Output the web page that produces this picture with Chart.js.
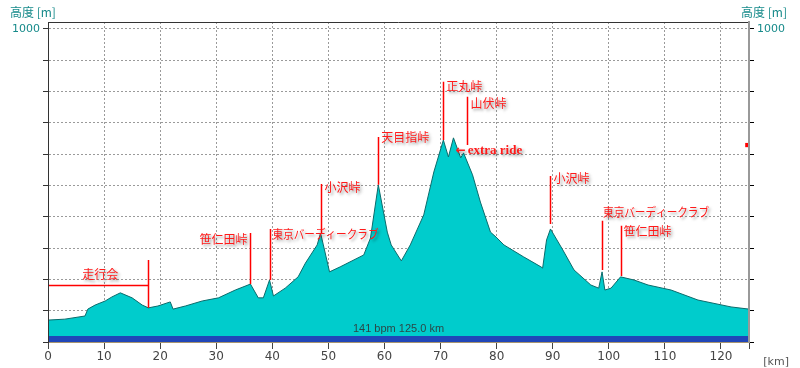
<!DOCTYPE html>
<html lang="ja">
<head>
<meta charset="UTF-8">
<title>高度プロファイル</title>
<script src="https://cdn.jsdelivr.net/npm/chart.js@4.4.0/dist/chart.umd.min.js"></script>
<style>
  html, body { margin: 0; padding: 0; background: #fff; }
</style>
</head>
<body>
<canvas id="grafico" width="800" height="368"></canvas>
<script>
// 距離 [km] と 高度 [m]
const distKm = [0, 3.0, 6.6, 7.1, 8.4, 10.2, 11.4, 12.9, 15.0, 16.8, 17.9, 19.6, 21.8, 22.3, 24.5, 27.5,
  30.4, 33.4, 36.1, 37.5, 38.4, 39.5, 40.2, 42.3, 44.6, 45.9, 48.0, 48.6, 49.1, 50.2, 52.1, 56.3,
  57.5, 58.9, 60.5, 61.2, 63.0, 64.6, 67.0, 68.8, 70.5, 71.4, 72.3, 73.6, 74.1, 75.7, 77.1, 78.9,
  79.9, 81.3, 84.8, 87.9, 88.2, 88.9, 89.6, 91.8, 93.8, 96.8, 98.2, 98.8, 99.3, 100.4, 102.1,
  104.5, 107.0, 111.1, 115.9, 121.8, 125.0];
const altM = [70, 73, 83, 105, 118, 131, 144, 157, 141, 118, 109, 115, 128, 105, 115, 131,
  141, 166, 185, 141, 141, 198, 147, 172, 208, 252, 310, 348, 310, 224, 240, 278,
  332, 502, 351, 310, 259, 310, 406, 543, 645, 591, 652, 588, 604, 534, 447, 351,
  335, 310, 272, 240, 236, 326, 361, 294, 230, 182, 172, 224, 166, 172, 208,
  198, 182, 166, 134, 112, 105];

const xTicks = [0, 10, 20, 30, 40, 50, 60, 70, 80, 90, 100, 110, 120, 125];
const yTicks = [0, 100, 200, 300, 400, 500, 600, 700, 800, 900, 1000];

// 峠
const passNames = ['笹仁田峠', '東京バーディークラブ', '小沢峠', '天目指峠', '正丸峠', '山伏峠', '小沢峠', '東京バーディークラブ', '笹仁田峠'];
const passKm = [36.1, 39.5, 48.6, 58.9, 70.5, 74.8, 89.6, 98.8, 102.1];
const passTop = [348, 361, 505, 655, 831, 783, 530, 387, 371];
const passBase = [185, 198, 348, 502, 645, 629, 377, 230, 211];

// 走行会
const meetName = '走行会';
const meetKm = 17.9;
const meetTop = 262;
const meetBase = 109;
const meetLevel = 182;

const extraName = 'extra ride';
const extraKm = 72.7;
const extraAlt = 610;

const avgBpm = 141;
const totalKm = 125.0;
const hrBand = 19;
const markerAlt = 629;

// ラベルの置き方 (dx, dy, align)
const passLabelStyle = [
  [-3, 6, 'right'], [3, 5, 'left'], [4, 4, 'left'], [3, 1, 'left'], [3, 5, 'left'],
  [3, 7, 'left'], [3, 2, 'left'], [1, -8, 'left'], [3, 6, 'left']
];

const teal = '#168a8a';

const profilePlugin = {
  id: 'profileLabels',
  afterDatasetsDraw(chart) {
    const { ctx, chartArea, scales } = chart;
    const xs = scales.x, ys = scales.y;

    // 上の枠線
    ctx.save();
    ctx.strokeStyle = '#333';
    ctx.lineWidth = 1;
    ctx.beginPath();
    ctx.moveTo(chartArea.left, chartArea.top + 0.5);
    ctx.lineTo(chartArea.right, chartArea.top + 0.5);
    ctx.stroke();

    // 赤い線
    ctx.strokeStyle = '#ff0000';
    ctx.lineWidth = 1.5;
    ctx.beginPath();
    passKm.forEach((km, i) => {
      const px = Math.round(xs.getPixelForValue(km)) + 0.5;
      ctx.moveTo(px, ys.getPixelForValue(passTop[i]));
      ctx.lineTo(px, ys.getPixelForValue(passBase[i]));
    });
    const mx = Math.round(xs.getPixelForValue(meetKm)) + 0.5;
    ctx.moveTo(mx, ys.getPixelForValue(meetTop));
    ctx.lineTo(mx, ys.getPixelForValue(meetBase));
    const my = Math.round(ys.getPixelForValue(meetLevel)) + 0.5;
    ctx.moveTo(chartArea.left, my);
    ctx.lineTo(mx, my);
    ctx.stroke();

    // 赤い文字
    ctx.fillStyle = '#ff1a1a';
    ctx.shadowColor = 'rgba(0,0,0,0.4)';
    ctx.shadowBlur = 3;
    ctx.shadowOffsetX = 2;
    ctx.shadowOffsetY = 2;
    ctx.textBaseline = 'middle';
    ctx.font = '12px "Noto Sans CJK JP"';
    passNames.forEach((name, i) => {
      const [dx, dy, align] = passLabelStyle[i];
      ctx.textAlign = align;
      const px = xs.getPixelForValue(passKm[i]) + dx;
      const py = ys.getPixelForValue(passTop[i]) + dy;
      if (name.length > 6) ctx.fillText(name, px, py, 106);
      else ctx.fillText(name, px, py);
    });
    ctx.textAlign = 'center';
    ctx.fillText(meetName, (chartArea.left + mx) / 2 + 2, my - 11);

    // ←extra ride
    ctx.textAlign = 'left';
    const ex = xs.getPixelForValue(extraKm);
    const ey = ys.getPixelForValue(extraAlt);
    ctx.font = 'bold 12px "DejaVu Sans"';
    ctx.fillText('←', ex, ey);
    ctx.font = 'bold 13px "Liberation Serif"';
    ctx.fillText(extraName, ex + 12, ey);
    ctx.restore();

    // 平均心拍と距離
    ctx.save();
    ctx.fillStyle = '#2a4848';
    ctx.font = '11px "Liberation Sans"';
    ctx.textAlign = 'center';
    ctx.textBaseline = 'middle';
    ctx.fillText(avgBpm + ' bpm ' + totalKm.toFixed(1) + ' km', (chartArea.left + chartArea.right) / 2, chartArea.bottom - 13);
    ctx.restore();
  },
  afterDraw(chart) {
    const { ctx } = chart;
    ctx.save();
    ctx.fillStyle = teal;
    ctx.font = '12px "Noto Sans CJK JP"';
    ctx.textBaseline = 'middle';
    ctx.textAlign = 'left';
    ctx.fillText('高度 [m]', 10, 12);
    ctx.textAlign = 'right';
    ctx.fillText('高度 [m]', 787, 12);
    ctx.fillStyle = '#555';
    ctx.font = '11px "DejaVu Sans"';
    ctx.fillText('[km]', 789, 362);
    ctx.restore();
  }
};

const ctx = document.getElementById('grafico').getContext('2d');
const chart = new Chart(ctx, {
  type: 'line',
  data: {
    datasets: [
      {
        // 心拍の帯
        data: [{ x: 0, y: hrBand }, { x: totalKm, y: hrBand }],
        fill: 'origin',
        backgroundColor: '#2046b8',
        borderWidth: 0,
        pointRadius: 0
      },
      {
        data: [{ x: totalKm - 0.3, y: markerAlt }],
        showLine: false,
        pointStyle: 'rect',
        pointRadius: 3,
        backgroundColor: '#ff0000',
        borderWidth: 0,
        clip: false
      },
      {
        data: distKm.map((km, i) => ({ x: km, y: altM[i] })),
        fill: 'origin',
        backgroundColor: '#00cccc',
        borderColor: '#0b6b6b',
        borderWidth: 1,
        pointRadius: 0,
        tension: 0
      }
    ]
  },
  options: {
    responsive: false,
    animation: false,
    layout: { padding: { top: 22, left: 0, right: 0, bottom: 0 } },
    plugins: { legend: { display: false }, tooltip: { enabled: false } },
    scales: {
      x: {
        type: 'linear',
        min: 0,
        max: 125,
        afterBuildTicks: s => { s.ticks = xTicks.map(v => ({ value: v })); },
        afterFit: s => { s.height = 26; },
        ticks: {
          autoSkip: false,
          maxRotation: 0,
          padding: 1,
          color: '#444',
          font: { family: 'DejaVu Sans', size: 12 },
          callback: v => (v === 125 ? '' : v)
        },
        grid: { color: '#9a9a9a', tickColor: '#444', tickLength: 7 },
        border: { color: '#a89470', width: 1, dash: [2, 2], z: 1 }
      },
      y: {
        position: 'left',
        min: 0,
        max: 1022,
        afterBuildTicks: s => { s.ticks = yTicks.map(v => ({ value: v })); },
        afterFit: s => { s.width = 48; },
        ticks: {
          padding: 3,
          color: teal,
          font: { family: 'DejaVu Sans', size: 11 },
          callback: v => (v === 1000 ? '1000' : '')
        },
        grid: { color: '#9a9a9a', tickColor: '#333', tickLength: 5 },
        border: { color: '#333', width: 1, dash: [2, 2], z: 1 }
      },
      y2: {
        position: 'right',
        min: 0,
        max: 1022,
        afterBuildTicks: s => { s.ticks = yTicks.map(v => ({ value: v })); },
        afterFit: s => { s.width = 51; },
        ticks: {
          padding: 3,
          color: teal,
          font: { family: 'DejaVu Sans', size: 11 },
          callback: v => (v === 1000 ? '1000' : '')
        },
        grid: { drawOnChartArea: false, tickColor: '#000', tickLength: 5 },
        border: { color: '#999', width: 2, z: 1 }
      }
    }
  },
  plugins: [profilePlugin]
});
</script>
</body>
</html>
